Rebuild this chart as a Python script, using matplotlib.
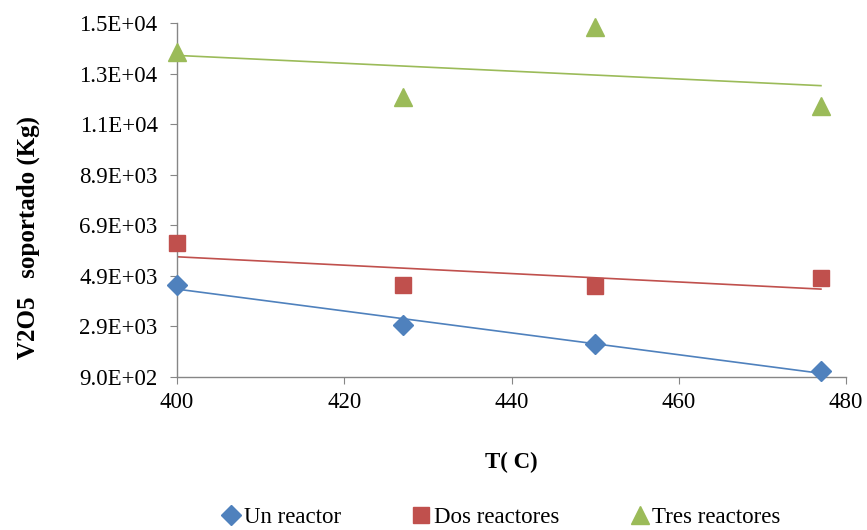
import numpy as np
import matplotlib.pyplot as plt
from matplotlib.ticker import FixedLocator, FuncFormatter

plt.rcParams['font.family'] = ['Liberation Serif', 'DejaVu Serif']

temperatura = [400, 427, 450, 477]
un_reactor = [4540, 2960, 2200, 1140]
dos_reactores = [6200, 4540, 4500, 4820]
tres_reactores = [13750, 11970, 14740, 11620]

series = [
    ('Un reactor', un_reactor, 'D', '#4F81BD', 10),
    ('Dos reactores', dos_reactores, 's', '#C0504D', 11),
    ('Tres reactores', tres_reactores, '^', '#9BBB59', 13),
]

y_ticks = [900, 2900, 4900, 6900, 8900, 10900, 12900, 14900]

fig = plt.figure(figsize=(8.67, 5.30), dpi=100)
ax = fig.add_axes([0.2042, 0.2887, 0.7716, 0.6679])

x = np.array(temperatura)
for nombre, valores, marca, color, tam in series:
    ax.plot(x, valores, linestyle='none', marker=marca, color=color,
            markersize=tam, label=nombre, zorder=3, clip_on=False)
    m, b = np.polyfit(x, valores, 1)
    ax.plot(x, m * x + b, color=color, linewidth=1.2, zorder=2)

ax.set_xlim(400, 480)
ax.set_ylim(900, 14900)
ax.set_xticks([400, 420, 440, 460, 480])
ax.yaxis.set_major_locator(FixedLocator(y_ticks))
ax.yaxis.set_major_formatter(FuncFormatter(lambda v, pos: '%.1E' % v))

for lado in ['top', 'right']:
    ax.spines[lado].set_visible(False)
for lado in ['left', 'bottom']:
    ax.spines[lado].set_color('#868686')
    ax.spines[lado].set_linewidth(1)
ax.tick_params(axis='both', colors='#868686', labelcolor='black',
               labelsize=16.5, length=5, direction='out')
ax.tick_params(axis='y', pad=9)
ax.tick_params(axis='x', pad=6)

ax.set_xlabel('T( C)', fontsize=16.5, fontweight='bold', labelpad=28)
ax.set_ylabel('V2O5   soportado (Kg)', fontsize=18, fontweight='bold')
ax.yaxis.set_label_coords(-0.205, 0.395)

fig.legend(loc='lower center', bbox_to_anchor=(0.577, -0.035), ncol=3,
           frameon=False, fontsize=16.5, handletextpad=0.05, columnspacing=3.0,
           handlelength=1.0)

fig.savefig('out.png', dpi=100)
